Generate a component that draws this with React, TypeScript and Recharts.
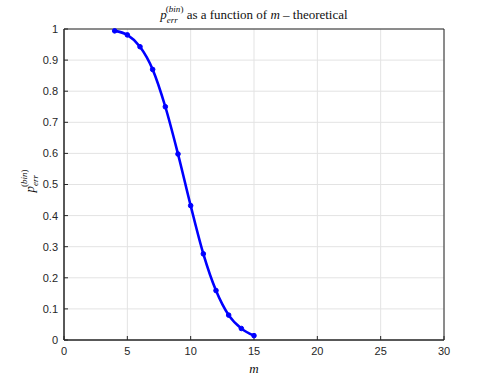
import React from "react";
import { LineChart, Line, XAxis, YAxis, CartesianGrid, ReferenceArea } from "recharts";

const mValues = [4, 5, 6, 7, 8, 9, 10, 11, 12, 13, 14, 15];
const pErr = [0.994, 0.981, 0.943, 0.87, 0.75, 0.598, 0.432, 0.277, 0.159, 0.08, 0.037, 0.014];
const xTicks = [0, 5, 10, 15, 20, 25, 30];
const yTicks = [0, 0.1, 0.2, 0.3, 0.4, 0.5, 0.6, 0.7, 0.8, 0.9, 1];

const data = mValues.map((m, i) => ({ m, p: pErr[i] }));

const AX = "#262626";
const tickFont = { fontFamily: "Liberation Sans, Arial, sans-serif", fontSize: 11, fill: AX };
const SERIF = "Liberation Serif, Times New Roman, serif";

export default function App() {
  return (
    <div style={{ position: "absolute", left: 0, top: 0, background: "#fff" }}>
      <LineChart
        width={491}
        height={382}
        data={data}
        margin={{ top: 29, right: 47, bottom: 22, left: 34 }}
      >
        <CartesianGrid
          xAxisId="b"
          yAxisId="l"
          stroke="#e3e3e3"
          strokeWidth={1}
          verticalValues={xTicks}
          horizontalValues={yTicks}
        />
        <XAxis
          xAxisId="b"
          dataKey="m"
          type="number"
          domain={[0, 30]}
          ticks={xTicks}
          height={20}
          stroke={AX}
          tick={tickFont}
          tickSize={-4}
          tickMargin={11}
          interval={0}
        />
        <YAxis
          yAxisId="l"
          type="number"
          domain={[0, 1]}
          ticks={yTicks}
          width={30}
          stroke={AX}
          tick={tickFont}
          tickSize={-4}
          tickMargin={10}
          interval={0}
        />
        <ReferenceArea
          xAxisId="b"
          yAxisId="l"
          x1={0}
          x2={30}
          y1={0}
          y2={1}
          fill="none"
          fillOpacity={0}
          stroke={AX}
          strokeWidth={1}
          ifOverflow="visible"
        />
        <Line
          xAxisId="b"
          yAxisId="l"
          dataKey="p"
          type="monotone"
          stroke="#0000ff"
          strokeWidth={2.6}
          dot={{ r: 2.3, fill: "#0000ff", stroke: "#0000ff", strokeWidth: 1 }}
          isAnimationActive={false}
        />
        <text
          x={254}
          y={19}
          textAnchor="middle"
          fontFamily={SERIF}
          fontSize={13}
          fill="#111"
        >
          <tspan fontStyle="italic">p</tspan>
          <tspan fontSize={9} dy={4} fontStyle="italic">err</tspan>
          <tspan fontSize={9} dx={-12} dy={-11}>(</tspan>
          <tspan fontSize={9} fontStyle="italic">bin</tspan>
          <tspan fontSize={9}>)</tspan>
          <tspan dy={7}>{"  as a function of "}</tspan>
          <tspan fontStyle="italic">m</tspan>
          <tspan>{" – theoretical"}</tspan>
        </text>
        <text
          x={0}
          y={0}
          transform="translate(34,181) rotate(-90)"
          textAnchor="middle"
          fontFamily={SERIF}
          fontSize={13}
          fill="#111"
        >
          <tspan fontStyle="italic">p</tspan>
          <tspan fontSize={9} dy={4} fontStyle="italic">err</tspan>
          <tspan fontSize={9} dx={-12} dy={-11}>(</tspan>
          <tspan fontSize={9} fontStyle="italic">bin</tspan>
          <tspan fontSize={9}>)</tspan>
        </text>
        <text
          x={254}
          y={373}
          textAnchor="middle"
          fontFamily={SERIF}
          fontSize={13}
          fontStyle="italic"
          fill="#111"
        >
          m
        </text>
      </LineChart>
    </div>
  );
}
